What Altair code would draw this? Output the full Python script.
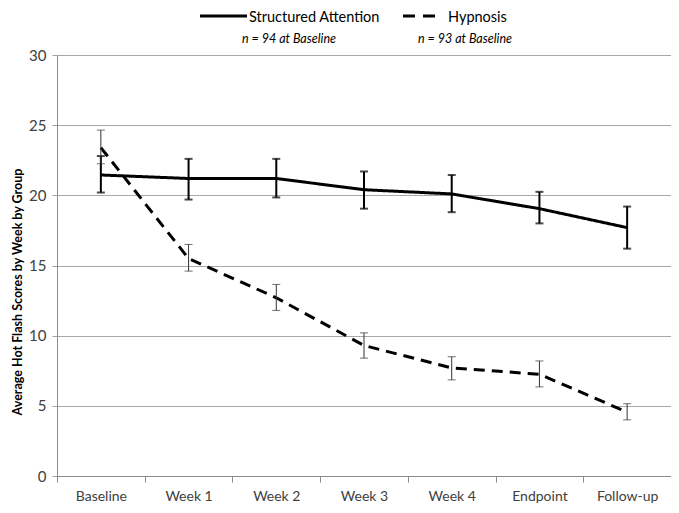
import altair as alt
import pandas as pd

weeks = ["Baseline", "Week 1", "Week 2", "Week 3", "Week 4", "Endpoint", "Follow-up"]
sa_mean = [21.45, 21.2, 21.2, 20.4, 20.1, 19.05, 17.7]
sa_low = [20.2, 19.7, 19.85, 19.05, 18.8, 18.0, 16.2]
sa_high = [22.8, 22.6, 22.6, 21.7, 21.45, 20.25, 19.2]
hy_mean = [23.4, 15.5, 12.7, 9.3, 7.7, 7.25, 4.55]
hy_low = [22.25, 14.6, 11.8, 8.4, 6.85, 6.35, 4.0]
hy_high = [24.65, 16.5, 13.65, 10.2, 8.5, 8.2, 5.15]
groups = ["Structured Attention", "Hypnosis"]
y_title = "Average Hot Flash Scores by Week by Group"

FONT = "Lato"

rows = []
for g, m, lo, hi in [(groups[0], sa_mean, sa_low, sa_high), (groups[1], hy_mean, hy_low, hy_high)]:
    for w, a, b, c in zip(weeks, m, lo, hi):
        rows.append({"week": w, "group": g, "mean": a, "low": b, "high": c})
df = pd.DataFrame(rows)
sa_df = df[df.group == groups[0]]
hy_df = df[df.group == groups[1]]

x = alt.X("week:N", sort=weeks, bandPosition=0.5,
          scale=alt.Scale(type="band", paddingInner=0, paddingOuter=0),
          axis=alt.Axis(title=None, labelAngle=0, tickBand="extent", labelFontSize=14,
                        labelColor="#404040", labelFont=FONT, domainColor="#8c8c8c",
                        tickColor="#8c8c8c", tickSize=6, labelPadding=7, grid=False))
y_scale = alt.Scale(domain=[0, 30], nice=False)
y = alt.Y("mean:Q", scale=y_scale,
          axis=alt.Axis(title=None, values=[0, 5, 10, 15, 20, 25, 30],
                        labelFontSize=15, labelColor="#404040", labelFont=FONT, labelPadding=6,
                        tickSize=5, tickColor="#a0a0a0", domainColor="#8c8c8c",
                        gridColor="#a8a8a8", grid=True))

lines = alt.Chart(df).mark_line(color="black", strokeWidth=3).encode(
    x=x, y=y,
    strokeDash=alt.StrokeDash("group:N", scale=alt.Scale(domain=groups, range=[[1, 0], [11, 7]]), legend=None),
    detail="group:N",
)

def errbars(d, color, width):
    rule = alt.Chart(d).mark_rule(color=color, strokeWidth=width).encode(
        x=alt.X("week:N", sort=weeks, bandPosition=0.5), y=alt.Y("low:Q", scale=y_scale), y2="high:Q")
    cap_lo = alt.Chart(d).mark_tick(color=color, thickness=width, size=8, orient="horizontal").encode(
        x=alt.X("week:N", sort=weeks, bandPosition=0.5), y=alt.Y("low:Q", scale=y_scale))
    cap_hi = alt.Chart(d).mark_tick(color=color, thickness=width, size=8, orient="horizontal").encode(
        x=alt.X("week:N", sort=weeks, bandPosition=0.5), y=alt.Y("high:Q", scale=y_scale))
    return [rule, cap_lo, cap_hi]

legend_line = alt.Chart(pd.DataFrame({"k": [0]})).mark_rule(color="black", strokeWidth=3).encode(
    x=alt.value(143), x2=alt.value(190), y=alt.value(-39))
legend_dash = alt.Chart(pd.DataFrame({"k": [0]})).mark_rule(color="black", strokeWidth=3, strokeDash=[12, 8]).encode(
    x=alt.value(346), x2=alt.value(378), y=alt.value(-39))

def label(txt, xpos, ypos, size, style="normal", weight="normal", angle=0, align="left", baseline="alphabetic"):
    return alt.Chart(pd.DataFrame({"t": [txt]})).mark_text(
        align=align, baseline=baseline, font=FONT, fontSize=size, fontStyle=style, fontWeight=weight,
        angle=angle, color="#000000").encode(
        text="t:N", x=alt.value(xpos), y=alt.value(ypos))

labels = [
    label("Structured Attention", 192, -33, 14.5),
    label("Hypnosis", 391, -33, 14.5),
    label("n = 94 at Baseline", 185, -12, 12.5, "italic"),
    label("n = 93 at Baseline", 361, -12, 12.5, "italic"),
    label(y_title, -39, 237, 12.5, weight="bold", angle=270, align="center", baseline="middle"),
]

chart = alt.layer(
    lines,
    *errbars(sa_df, "#000000", 2),
    *errbars(hy_df, "#333333", 1),
    legend_line, legend_dash, *labels,
).properties(
    width=614, height=421,
    padding={"left": 49, "top": 47, "right": 0, "bottom": 29},
    autosize=alt.AutoSizeParams(type="none"),
).configure_view(stroke=None).configure(background="white")

chart.save("out.html", embed_options={"renderer": "svg", "actions": False})
